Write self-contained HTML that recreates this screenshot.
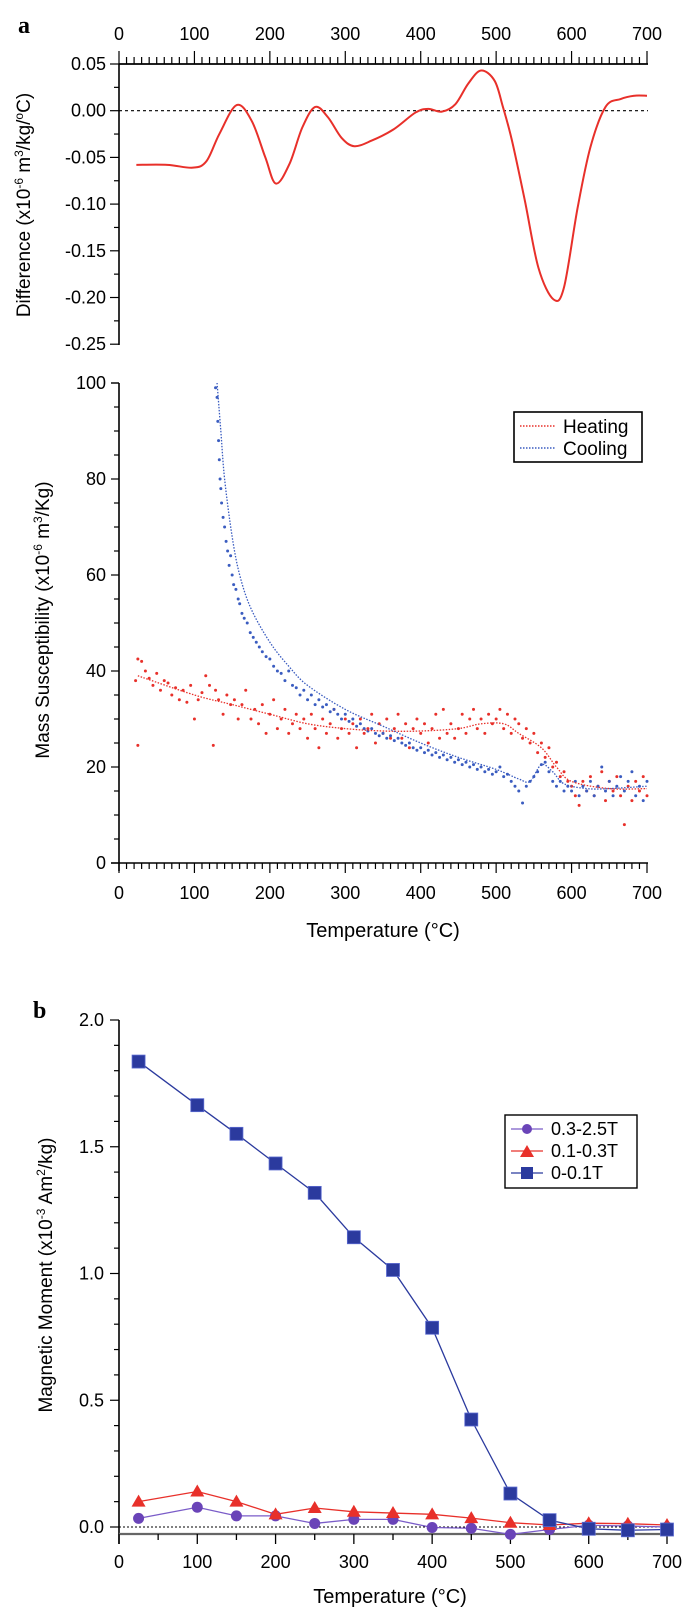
<!DOCTYPE html>
<html><head><meta charset="utf-8"><style>
body{margin:0;background:#fff}
svg{display:block;font-family:"Liberation Sans",Arial,sans-serif}
</style></head><body>
<svg id="fig" width="685" height="1611" viewBox="0 0 685 1611" xmlns="http://www.w3.org/2000/svg">
<text x="18" y="33" font-family="Liberation Serif,serif" font-weight="bold" font-size="24">a</text>
<text x="33" y="1018" font-family="Liberation Serif,serif" font-weight="bold" font-size="24">b</text>
</svg>
<script>
// ---- Panel a (top): difference curve
const diffT=[23,64,98,116,133,156,176,194,208,226,243,260,277,295,312,335,364,393,410,428,446,463,480,498,509,521,538,556,576,590,608,625,645,665,683,700];
const diffV=[-0.058,-0.058,-0.061,-0.054,-0.025,0.006,-0.011,-0.05,-0.078,-0.057,-0.018,0.004,-0.007,-0.029,-0.038,-0.032,-0.02,-0.002,0.002,-0.001,0.007,0.029,0.043,0.032,0.004,-0.032,-0.096,-0.168,-0.202,-0.189,-0.104,-0.039,0.004,0.0125,0.016,0.016];
const diffTicks=["0.05","0.00","-0.05","-0.10","-0.15","-0.20","-0.25"];
const tempTicks=["0","100","200","300","400","500","600","700"];
// ---- Panel a (middle): susceptibility
const heatLineT=[25,100,150,200,250,300,350,400,450,480,510,530,560,580,600,650,700];
const heatLineV=[39,35,33,31,29,28,27.5,27.5,28,29,29,27,24,20,17,15.5,15.5];
const coolLineT=[130,135,140,150,160,175,200,225,250,300,350,400,450,500,530,545,560,575,590,620,650,700];
const coolLineV=[100,90,80,68,60,53,46,41,37,32,28.5,25,22,19.5,17.5,17,20.5,19,16.5,15.5,15.5,16];
const heatPts=[[22,38],[25,24.5],[25,42.5],[30,42],[35,40],[40,38.5],[45,37],[50,39.5],[55,36],[60,38],[65,37.5],[70,35],[75,36.5],[80,34],[85,36],[90,33.5],[95,37],[100,30],[105,34],[110,35.5],[115,39],[120,37],[125,24.5],[128,36],[132,34],[138,31],[143,35],[148,33],[153,34],[158,30],[163,33],[168,36],[175,30],[180,32],[185,29],[190,33],[195,27],[200,31],[205,34],[210,28],[215,30],[220,32],[225,27],[230,29],[235,31],[240,28],[245,30],[250,26],[255,31],[260,28],[265,24],[270,30],[275,27],[280,29],[285,32],[290,26],[295,28],[300,30],[305,27],[310,29],[315,24],[320,30],[325,27],[330,28],[335,31],[340,25],[345,29],[350,27],[355,30],[360,26],[365,28],[370,31],[375,26],[380,29],[385,24],[390,28],[395,30],[400,27],[405,29],[410,25],[415,28],[420,31],[425,26],[430,32],[435,27],[440,29],[445,26],[450,28],[455,31],[460,27],[465,30],[470,32],[475,28],[480,30],[485,27],[490,31],[495,29],[500,30],[505,32],[510,28],[515,31],[520,27],[525,30],[530,29],[535,26],[540,28],[545,25],[550,27],[555,23],[560,25],[565,22],[570,24],[575,20],[580,21],[585,18],[590,19],[595,17],[600,16],[605,14],[610,12],[615,17],[620,15],[625,18],[630,14],[635,16],[640,19],[645,13],[650,17],[655,15],[660,18],[665,14],[670,8],[675,16],[680,13],[685,17],[690,15],[695,18],[700,14]];
const coolPts=[[128,99],[130,97],[131,92],[132,88],[133,84],[134,80],[135,78],[136,75],[138,72],[140,70],[142,67],[144,65],[146,62],[148,64],[150,60],[152,58],[155,57],[158,55],[160,54],[163,52],[166,51],[170,50],[174,48],[178,47],[182,46],[186,45],[190,44],[195,43],[200,42.5],[205,41],[210,40],[215,39.5],[220,38],[225,40],[230,37],[235,36.5],[240,35],[245,36],[250,34],[255,35],[260,33],[265,34],[270,32.5],[275,33],[280,31.5],[285,32],[290,31],[295,30],[300,31],[305,29.5],[310,30],[315,28.5],[320,29],[325,28],[330,27.5],[335,28],[340,27],[345,26.5],[350,27],[355,26],[360,26.5],[365,25.5],[370,26],[375,25],[380,24.5],[385,25],[390,24],[395,23.5],[400,24],[405,23],[410,23.5],[415,22.5],[420,23],[425,22],[430,22.5],[435,21.5],[440,22],[445,21],[450,21.5],[455,20.5],[460,21],[465,20],[470,20.5],[475,19.5],[480,20],[485,19],[490,19.5],[495,18.5],[500,19],[505,20],[510,18],[515,18.5],[520,17],[525,16],[530,15],[535,12.5],[540,16],[545,17],[550,18],[555,19],[560,20.5],[565,21],[570,19],[575,17],[580,16],[585,17],[590,15],[595,16],[600,15],[605,17],[610,14],[615,16],[620,15],[625,17],[630,14],[635,16],[640,20],[645,15],[650,17],[655,14],[660,16],[665,18],[670,15],[675,17],[680,19],[685,14],[690,16],[695,13],[700,17]];
const suscTicks=["0","20","40","60","80","100"];
// ---- Panel b
const bT=[25,100,150,200,250,300,350,400,450,500,550,600,650,700];
const sqV=[1.836,1.664,1.551,1.434,1.318,1.143,1.014,0.786,0.424,0.132,0.027,-0.007,-0.013,-0.01];
const triV=[0.10,0.14,0.10,0.05,0.075,0.06,0.055,0.05,0.035,0.017,0.008,0.015,0.013,0.008];
const cirV=[0.034,0.078,0.044,0.044,0.014,0.03,0.03,-0.002,-0.005,-0.029,-0.01,0.007,0.004,0.0];
const momTicks=["0.0","0.5","1.0","1.5","2.0"];

const svg=document.getElementById('fig');
const NS='http://www.w3.org/2000/svg';
function mk(tag,attrs,parent){const e=document.createElementNS(NS,tag);for(const k in attrs)e.setAttribute(k,attrs[k]);(parent||svg).appendChild(e);return e;}
function line(x1,y1,x2,y2,st,w,p){return mk('line',{x1,y1,x2,y2,stroke:st||'#000','stroke-width':w||1.3},p);}
function txt(x,y,s,anchor,size,p){const t=mk('text',{x,y,'text-anchor':anchor||'middle','font-size':size||18},p);t.textContent=s;return t;}
function smooth(pts){let d='M'+pts[0][0]+','+pts[0][1];
  for(let i=0;i<pts.length-1;i++){const p0=pts[Math.max(0,i-1)],p1=pts[i],p2=pts[i+1],p3=pts[Math.min(pts.length-1,i+2)];
    const c1x=p1[0]+(p2[0]-p0[0])/6,c1y=p1[1]+(p2[1]-p0[1])/6,c2x=p2[0]-(p3[0]-p1[0])/6,c2y=p2[1]-(p3[1]-p1[1])/6;
    d+=` C${c1x},${c1y} ${c2x},${c2y} ${p2[0]},${p2[1]}`;}
  return d;}

const ax=t=>119+t*(647-119)/700;
const ay=v=>110.7-v*(46.7/0.05);
const mx=t=>119+t*(647-119)/700;
const my=v=>863-v*4.8;
const bx=t=>119+t*(667-119)/700;
const by=v=>1527-v*253.5;

// ===== Panel a top
const gA=mk('g',{});


line(119,64,648,64,'#000',1.8,gA);
line(119,64,119,345,'#000',1.6,gA);
for(let t=0;t<=700;t+=10){const maj=t%100===0;line(ax(t),64,ax(t),maj?51:57,'#000',1.2,gA);}
tempTicks.forEach(s=>{const t=txt(ax(+s),40,s,'middle',18,gA);});
for(let i=0;i<=12;i++){const v=0.05-i*0.025;const maj=i%2===0;line(119,ay(v),maj?110:114,ay(v),'#000',1.2,gA);}
diffTicks.forEach(s=>{const t=txt(106,ay(+s)+6,s,'end',18,gA);});
const z=line(119,ay(0),648,ay(0),'#000',1.2,gA);z.setAttribute('stroke-dasharray','3,3');


const dp=mk('path',{d:smooth(diffT.map((t,i)=>[ax(t),ay(diffV[i])])),fill:'none',stroke:'#e8302a','stroke-width':2},gA);


const ta=mk('text',{transform:'translate(30,205) rotate(-90)','text-anchor':'middle','font-size':19},gA);
ta.innerHTML='Difference (x10<tspan dy="-7" font-size="12">-6</tspan><tspan dy="7"> m</tspan><tspan dy="-7" font-size="12">3</tspan><tspan dy="7">/kg/</tspan><tspan dy="-7" font-size="12">o</tspan><tspan dy="7">C)</tspan>';



// ===== Middle susceptibility
const gM=mk('g',{});


line(119,383,119,871,'#000',1.6,gM);
line(111,863,648,863,'#000',1.6,gM);
line(111,383,119,383,'#000',1.3,gM);
for(let v=0;v<=100;v+=5){line(119,my(v),v%20===0?111:114,my(v),'#000',1.2,gM);}
suscTicks.forEach(s=>{const t=txt(106,my(+s)+6,s,'end',18,gM);});
for(let t=0;t<=700;t+=10){const maj=t%100===0;line(mx(t),863,mx(t),maj?873:869,'#000',1.2,gM);}
tempTicks.forEach(s=>{const t=txt(mx(+s),899,s,'middle',18,gM);});
heatPts.forEach(p=>{const c=mk('circle',{cx:mx(p[0]),cy:my(p[1]),r:1.5,fill:'#e8302a'},gM);});
coolPts.forEach(p=>{const c=mk('circle',{cx:mx(p[0]),cy:my(p[1]),r:1.5,fill:'#3a5cc0'},gM);});
const hl=mk('path',{d:smooth(heatLineT.map((t,i)=>[mx(t),my(heatLineV[i])])),fill:'none',stroke:'#e8302a','stroke-width':1.3,'stroke-dasharray':'1.5,1.5'},gM);


const cl=mk('path',{d:smooth(coolLineT.map((t,i)=>[mx(t),my(coolLineV[i])])),fill:'none',stroke:'#3a5cc0','stroke-width':1.3,'stroke-dasharray':'1.5,1.5'},gM);


const lg=mk('g',{},gM);


mk('rect',{x:514,y:412,width:128,height:50,fill:'#fff',stroke:'#000','stroke-width':1.6},lg);
line(520,426,555,426,'#e8302a',1.4,lg).setAttribute('stroke-dasharray','1.5,1.5');
line(520,448,555,448,'#3a5cc0',1.4,lg).setAttribute('stroke-dasharray','1.5,1.5');
txt(563,433,'Heating','start',19,lg);
txt(563,455,'Cooling','start',19,lg);
txt(383,937,'Temperature (°C)','middle',20,gM);
const tm=mk('text',{transform:'translate(49,620) rotate(-90)','text-anchor':'middle','font-size':19},gM);
tm.innerHTML='Mass Susceptibility (x10<tspan dy="-7" font-size="12">-6</tspan><tspan dy="7"> m</tspan><tspan dy="-7" font-size="12">3</tspan><tspan dy="7">/Kg)</tspan>';



// ===== Panel b
const gB=mk('g',{});


line(119,1020,119,1544,'#000',1.6,gB);
line(119,1534,668,1534,'#666',2.2,gB);
for(let i=0;i<=20;i++){const v=i*0.1;line(119,by(v),i%5===0?110:114,by(v),'#000',1.2,gB);}
momTicks.forEach(s=>{const t=txt(104,by(+s)+6,s,'end',18,gB);});
for(let t=0;t<=700;t+=50){line(bx(t),1534,bx(t),t%100===0?1544:1540,'#000',1.3,gB);}
tempTicks.forEach(s=>{const t=txt(bx(+s),1568,s,'middle',18,gB);});
const z2=line(119,by(0),668,by(0),'#000',1,gB);z2.setAttribute('stroke-dasharray','2,2');
function series(vals,color,shape,name){
  const pl=mk('polyline',{points:bT.map((t,i)=>bx(t)+','+by(vals[i])).join(' '),fill:'none',stroke:color,'stroke-width':1.3},gB);
  
  
  bT.forEach((t,i)=>{const x=bx(t),y=by(vals[i]);let m;
    if(shape==='sq')m=mk('rect',{x:x-6.5,y:y-6.5,width:13,height:13,fill:'#2b3a9e',stroke:'#5a6ad0','stroke-width':0.8},gB);
    else if(shape==='tri')m=mk('polygon',{points:`${x},${y-7} ${x-7},${y+5} ${x+7},${y+5}`,fill:'#e8302a'},gB);
    else m=mk('circle',{cx:x,cy:y,r:5.5,fill:'#6a44b8'},gB);
    
    });
}
series(cirV,'#7a5cc8','cir','series-0.3-2.5T');
series(triV,'#e8302a','tri','series-0.1-0.3T');
series(sqV,'#2b3a9e','sq','series-0-0.1T');
const lb=mk('g',{},gB);


mk('rect',{x:505,y:1115,width:132,height:73,fill:'#fff',stroke:'#000','stroke-width':1.4},lb);
line(511,1129,543,1129,'#7a5cc8',1.3,lb);mk('circle',{cx:527,cy:1129,r:5,fill:'#6a44b8'},lb);
line(511,1151,543,1151,'#e8302a',1.3,lb);mk('polygon',{points:'527,1145 520,1157 534,1157',fill:'#e8302a'},lb);
line(511,1173,543,1173,'#2b3a9e',1.3,lb);mk('rect',{x:521,y:1167,width:12,height:12,fill:'#2b3a9e'},lb);
txt(551,1135,'0.3-2.5T','start',18,lb);
txt(551,1157,'0.1-0.3T','start',18,lb);
txt(551,1179,'0-0.1T','start',18,lb);
txt(390,1603,'Temperature (°C)','middle',20,gB);
const tb=mk('text',{transform:'translate(52,1275) rotate(-90)','text-anchor':'middle','font-size':19},gB);
tb.innerHTML='Magnetic Moment (x10<tspan dy="-7" font-size="12">-3</tspan><tspan dy="7">  Am</tspan><tspan dy="-7" font-size="12">2</tspan><tspan dy="7">/kg)</tspan>';


</script>
</body></html>
